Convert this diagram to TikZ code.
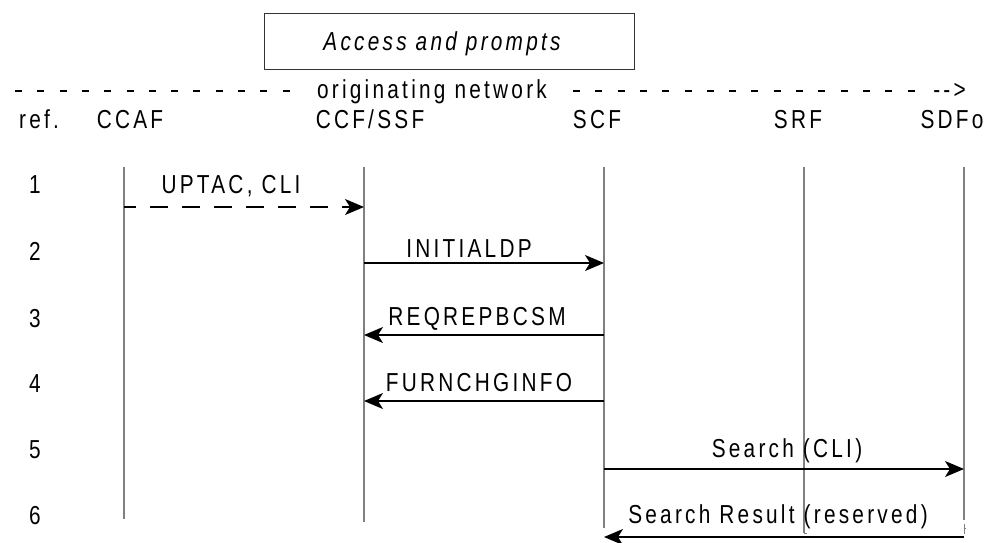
\documentclass[tikz,border=0pt]{standalone}
\usepackage{fontspec}
\setmainfont{Liberation Sans}[FakeStretch=0.8,LetterSpace=12.5]
\usetikzlibrary{arrows.meta}
\definecolor{lifegray}{RGB}{128,128,128}
\begin{document}
\begin{tikzpicture}[x=1pt,y=-1pt,
  txt/.style={inner sep=0pt,anchor=base,font=\fontsize{26}{31}\selectfont},
  life/.style={draw=lifegray,line width=1.6pt},
  msg/.style={line width=1.2pt,-{Stealth[length=19pt,width=16pt,inset=5pt]}},
  dashmsg/.style={msg,dash pattern=on 18pt off 14pt,dash phase=6pt},
  hy/.style={line width=2pt,dash pattern=on 7pt off 15.3pt},
]
\useasboundingbox (0,0) rectangle (994,542);

% title box
\node[draw=black!80,line width=1pt,minimum width=370pt,minimum height=56pt,inner sep=0pt] (box) at (449,41) {};
\node[txt,font=\fontsize{26}{31}\selectfont\itshape] (title) at (442,50) {Access and prompts};

% originating network line
\coordinate (hl1) at (15,91);
\coordinate (hl2) at (295,91);
\coordinate (hr1) at (573,91);
\coordinate (hr2) at (925,91);
\draw[hy] (hl1) -- (hl2);
\node[txt] (orig) at (432,98) {originating network};
\draw[hy] (hr1) -- (hr2);
\node[txt,anchor=base east] (arr) at (966,98) {{-}{-}>};

% header
\node[txt] (ref) at (39,128) {ref.};
\node[txt] (ccaf) at (130,128) {CCAF};
\node[txt] (ccf) at (370,128) {CCF/SSF};
\node[txt] (scf) at (597,128) {SCF};
\node[txt] (srf) at (798,128) {SRF};
\node[txt] (sdf) at (952,128) {SDFo};

% lifelines
\coordinate (Lccaf) at (124,167);
\coordinate (Lccf) at (364,167);
\coordinate (Lscf) at (604,167);
\coordinate (Lsrf) at (804,167);
\coordinate (Lsdf) at (964,167);
\coordinate (Bccaf) at (124,519);
\coordinate (Bccf) at (364,522);
\coordinate (Bscf) at (604,528);
\coordinate (Bsrf) at (804,533);
\coordinate (Bsdf) at (964,520);
\draw[life] (Lccaf) -- (Bccaf);
\draw[life] (Lccf) -- (Bccf);
\draw[life] (Lscf) -- (Bscf);
\draw[life] (Lsrf) -- (Bsrf);
\draw[life] (Lsdf) -- (Bsdf);
\coordinate (tk1) at (804,533);
\coordinate (tk2) at (807,533);
\draw[lifegray,line width=0.8pt] (tk1) -- (tk2);
\coordinate (tk3) at (964,524);
\coordinate (tk4) at (964,534);
\coordinate (tk5) at (966,528);
\draw[lifegray,line width=0.8pt] (tk3) -- (tk4) (tk3 |- tk5) -- (tk5);

% row numbers
\node[txt] (n1) at (35,193) {1};
\node[txt] (n2) at (35,260) {2};
\node[txt] (n3) at (35,327) {3};
\node[txt] (n4) at (35,392) {4};
\node[txt] (n5) at (35,458) {5};
\node[txt] (n6) at (35,524) {6};

% row y-coordinates
\coordinate (r1) at (0,207);
\coordinate (r2) at (0,263);
\coordinate (r3) at (0,335);
\coordinate (r4) at (0,401);
\coordinate (r5) at (0,469);
\coordinate (r6) at (0,537);

% messages
\draw[dashmsg] (Lccaf |- r1) -- (Lccf |- r1);
\node[txt] (m1) at (231,193) {UPTAC, CLI};
\draw[msg] (Lccf |- r2) -- (Lscf |- r2);
\node[txt] (m2) at (469,257) {INITIALDP};
\draw[msg] (Lscf |- r3) -- (Lccf |- r3);
\node[txt] (m3) at (477,325) {REQREPBCSM};
\draw[msg] (Lscf |- r4) -- (Lccf |- r4);
\node[txt] (m4) at (479,391) {FURNCHGINFO};
\draw[msg] (Lscf |- r5) -- (Lsdf |- r5);
\node[txt] (m5) at (787,457) {Search (CLI)};
\draw[msg] (Lsdf |- r6) -- (Lscf |- r6);
\node[txt] (m6) at (778,523) {Search Result (reserved)};
\end{tikzpicture}
\end{document}
